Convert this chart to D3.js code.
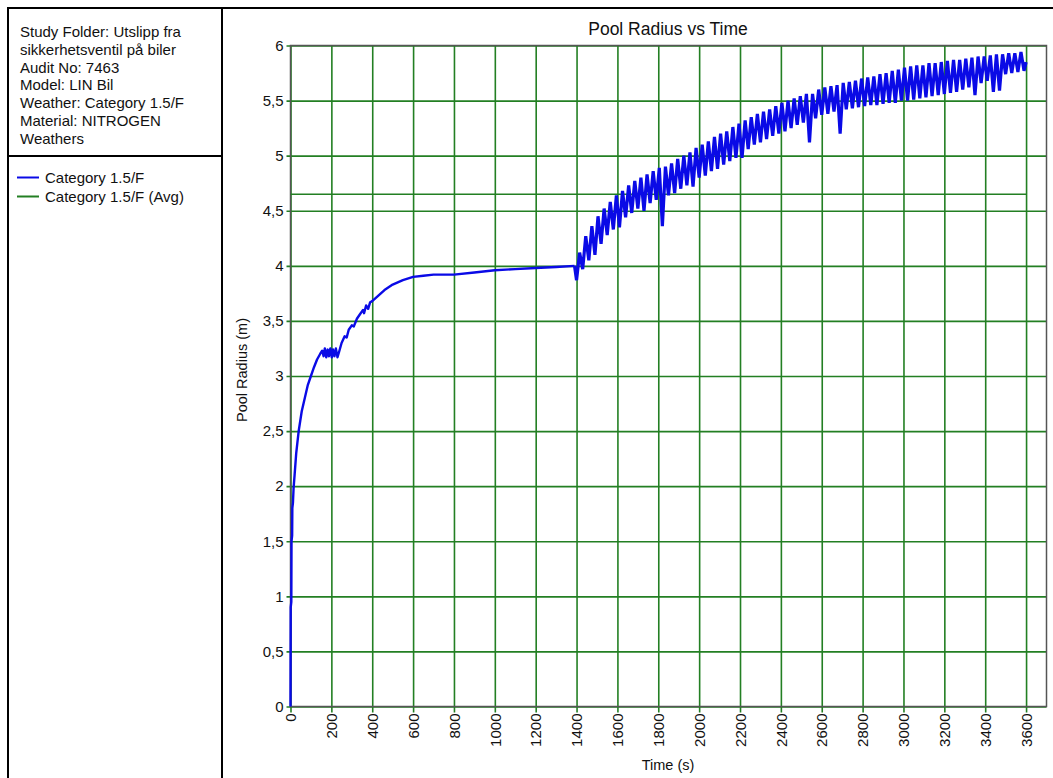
<!DOCTYPE html>
<html>
<head>
<meta charset="utf-8">
<script src="https://cdn.jsdelivr.net/npm/d3@7"></script>
<style>
  body { margin: 0; background: #fff; }
  svg text { font-family: "Liberation Sans", Arial, sans-serif; fill: #111; }
  .tick-label { font-size: 15px; }
  .info { font-size: 15px; }
</style>
</head>
<body>
<svg class="chart" width="1053" height="778"></svg>
<script>
// header text in the left box
var infoLines = [
    "Study Folder: Utslipp fra",
    "sikkerhetsventil på biler",
    "Audit No: 7463",
    "Model: LIN Bil",
    "Weather: Category 1.5/F",
    "Material: NITROGEN",
    "Weathers"
]
var seriesNames = ["Category 1.5/F", "Category 1.5/F (Avg)"]

var xTicks = [0, 200, 400, 600, 800, 1000, 1200, 1400, 1600, 1800, 2000, 2200, 2400, 2600, 2800, 3000, 3200, 3400, 3600]
var yTicks = [0, 0.5, 1, 1.5, 2, 2.5, 3, 3.5, 4, 4.5, 5, 5.5, 6]

// average radius (green line) [time, value]
var avgRadius = [[0, 4.65], [3600, 4.65]]

// [time (s), radius (m)] - spill build-up up to 1390 s
var earlyRadius = [
    [0, 0], [1, 0.9], [4, 0.95], [5, 1.5], [8, 1.55], [9, 1.8], [12, 1.85], [15, 1.98],
    [20, 2.1], [28, 2.3], [40, 2.5], [55, 2.68], [70, 2.8], [85, 2.92], [100, 3.0],
    [115, 3.08], [130, 3.15], [145, 3.2], [155, 3.23], [162, 3.18], [168, 3.25],
    [175, 3.17], [182, 3.24], [188, 3.18], [195, 3.25], [202, 3.17], [208, 3.24],
    [215, 3.18], [222, 3.25], [230, 3.17], [238, 3.22], [250, 3.3], [265, 3.36],
    [275, 3.35], [285, 3.42], [300, 3.46], [310, 3.45], [325, 3.52], [340, 3.56],
    [355, 3.6], [360, 3.57], [370, 3.64], [380, 3.61], [390, 3.67], [400, 3.68],
    [430, 3.73], [460, 3.78], [500, 3.83], [550, 3.87], [600, 3.9], [650, 3.91],
    [700, 3.92], [800, 3.92], [900, 3.94], [1000, 3.96], [1100, 3.97], [1200, 3.98],
    [1300, 3.99], [1390, 4.0]
]

// [time (s), radius (m)] - oscillating part, trough / peak pairs
var lateRadius = [
    [1400, 3.87], [1415, 4.12], [1430, 3.97], [1445, 4.27], [1460, 4.05], [1475, 4.36],
    [1490, 4.1], [1505, 4.45], [1520, 4.2], [1535, 4.52], [1550, 4.28], [1565, 4.58],
    [1580, 4.33], [1595, 4.64], [1610, 4.35], [1625, 4.68], [1640, 4.44], [1655, 4.73],
    [1670, 4.48], [1685, 4.77], [1700, 4.52], [1715, 4.8], [1730, 4.5], [1745, 4.83],
    [1760, 4.57], [1775, 4.86], [1790, 4.6], [1805, 4.89], [1820, 4.36], [1835, 4.9],
    [1850, 4.64], [1865, 4.93], [1880, 4.66], [1895, 4.97], [1910, 4.7], [1925, 5.0],
    [1940, 4.73], [1955, 5.03], [1970, 4.72], [1985, 5.07], [2000, 4.8], [2015, 5.1],
    [2030, 4.82], [2045, 5.13], [2060, 4.86], [2075, 5.17], [2090, 4.88], [2105, 5.2],
    [2120, 4.92], [2135, 5.22], [2150, 4.95], [2165, 5.26], [2180, 4.98], [2195, 5.29],
    [2210, 4.98], [2225, 5.32], [2240, 5.06], [2255, 5.35], [2270, 5.1], [2285, 5.38],
    [2300, 5.12], [2315, 5.4], [2330, 5.15], [2345, 5.42], [2360, 5.18], [2375, 5.45],
    [2390, 5.2], [2405, 5.48], [2420, 5.22], [2435, 5.5], [2450, 5.25], [2465, 5.52],
    [2480, 5.28], [2495, 5.54], [2510, 5.3], [2525, 5.56], [2540, 5.12], [2555, 5.56],
    [2570, 5.34], [2585, 5.6], [2600, 5.37], [2615, 5.62], [2630, 5.38], [2645, 5.63],
    [2660, 5.4], [2675, 5.64], [2690, 5.2], [2705, 5.66], [2720, 5.42], [2735, 5.67],
    [2750, 5.43], [2765, 5.68], [2780, 5.44], [2795, 5.7], [2810, 5.45], [2825, 5.71],
    [2840, 5.46], [2855, 5.72], [2870, 5.46], [2885, 5.74], [2900, 5.47], [2915, 5.75],
    [2930, 5.48], [2945, 5.77], [2960, 5.48], [2975, 5.78], [2990, 5.5], [3005, 5.8],
    [3020, 5.5], [3035, 5.81], [3050, 5.51], [3065, 5.82], [3080, 5.52], [3095, 5.82],
    [3110, 5.53], [3125, 5.84], [3140, 5.54], [3155, 5.84], [3170, 5.55], [3185, 5.85],
    [3200, 5.56], [3215, 5.86], [3230, 5.57], [3245, 5.87], [3260, 5.58], [3275, 5.87],
    [3290, 5.6], [3305, 5.88], [3320, 5.62], [3335, 5.89], [3350, 5.55], [3365, 5.9],
    [3380, 5.66], [3395, 5.9], [3410, 5.68], [3425, 5.91], [3440, 5.58], [3455, 5.92],
    [3470, 5.59], [3485, 5.92], [3500, 5.74], [3515, 5.93], [3530, 5.75], [3545, 5.93],
    [3560, 5.76], [3575, 5.94], [3590, 5.77], [3600, 5.85]
]

var colors = ["#0a0ae6", "#237f23"]

var plot = {left: 290.5, right: 1046.5, top: 45.5, bottom: 706.5}

var x = d3.scaleLinear()
    .domain([0, 3700])
    .range([plot.left, plot.right])

var y = d3.scaleLinear()
    .domain([0, 6])
    .range([plot.bottom, plot.top])

var svg = d3.select(".chart")

// outer frame and left info box
svg.append("rect")
    .attr("x", 8).attr("y", 8)
    .attr("width", 1100).attr("height", 820)
    .attr("fill", "none")
    .attr("stroke", "#000")
    .attr("stroke-width", 2)

svg.append("line")
    .attr("x1", 222).attr("x2", 222)
    .attr("y1", 8).attr("y2", 800)
    .attr("stroke", "#000").attr("stroke-width", 2)

svg.append("line")
    .attr("x1", 8).attr("x2", 222)
    .attr("y1", 156).attr("y2", 156)
    .attr("stroke", "#000").attr("stroke-width", 2)

svg.append("g")
    .selectAll("text")
    .data(infoLines)
    .enter().append("text")
    .attr("class", "info")
    .attr("x", 20)
    .attr("y", (d, i) => 37 + i * 17.8)
    .text(d => d)

var legend = svg.append("g").attr("class", "legend")

legend.selectAll("line")
    .data(seriesNames)
    .enter().append("line")
    .attr("x1", 17).attr("x2", 39)
    .attr("y1", (d, i) => 177.5 + i * 19)
    .attr("y2", (d, i) => 177.5 + i * 19)
    .attr("stroke", (d, i) => colors[i])
    .attr("stroke-width", 2)

legend.selectAll("text")
    .data(seriesNames)
    .enter().append("text")
    .attr("class", "info")
    .attr("x", 45)
    .attr("y", (d, i) => 183 + i * 19)
    .text(d => d)

// title
svg.append("text")
    .attr("x", 668).attr("y", 35)
    .attr("text-anchor", "middle")
    .style("font-size", "17.5px")
    .text("Pool Radius vs Time")

// grid via axes
var fmt = d => String(d).replace(".", ",")

var xAxis = svg.append("g")
    .attr("transform", "translate(0," + (plot.bottom + 6) + ")")
    .call(d3.axisBottom(x)
        .tickValues(xTicks)
        .tickSize(-(plot.bottom + 6 - plot.top))
        .tickFormat(d => d))
xAxis.select(".domain").remove()
xAxis.selectAll(".tick line")
    .attr("stroke", colors[1])
    .attr("stroke-width", 1.6)
xAxis.selectAll(".tick text")
    .attr("class", "tick-label")
    .attr("fill", "#111")
    .attr("transform", "rotate(-90)")
    .attr("text-anchor", "end")
    .attr("x", 0)
    .attr("y", 0)
    .attr("dx", "-1px")
    .attr("dy", "0.35em")
    .style("font-family", "'Liberation Sans', Arial, sans-serif")

var yAxis = svg.append("g")
    .attr("transform", "translate(" + (plot.left - 4) + ",0)")
    .call(d3.axisLeft(y)
        .tickValues(yTicks)
        .tickSize(-(plot.right - plot.left + 4))
        .tickPadding(3)
        .tickFormat(fmt))
yAxis.select(".domain").remove()
yAxis.selectAll(".tick line")
    .attr("stroke", colors[1])
    .attr("stroke-width", 1.6)
yAxis.selectAll(".tick text")
    .attr("class", "tick-label")
    .attr("fill", "#111")
    .style("font-family", "'Liberation Sans', Arial, sans-serif")

// plot frame
svg.append("rect")
    .attr("x", plot.left).attr("y", plot.top)
    .attr("width", plot.right - plot.left)
    .attr("height", plot.bottom - plot.top)
    .attr("fill", "none")
    .attr("stroke", "#555")
    .attr("stroke-width", 1.5)

// axis titles
svg.append("text")
    .attr("x", 668).attr("y", 770)
    .attr("text-anchor", "middle")
    .style("font-size", "14.5px")
    .text("Time (s)")

svg.append("text")
    .attr("transform", "translate(247,370) rotate(-90)")
    .attr("text-anchor", "middle")
    .style("font-size", "14.5px")
    .text("Pool Radius (m)")

// series
var line = d3.line()
    .x(d => x(d[0]))
    .y(d => y(d[1]))

svg.append("path")
    .datum(avgRadius)
    .attr("d", line)
    .attr("fill", "none")
    .attr("stroke", colors[1])
    .attr("stroke-width", 1.6)

svg.append("path")
    .datum(earlyRadius)
    .attr("d", line)
    .attr("fill", "none")
    .attr("stroke", colors[0])
    .attr("stroke-width", 2.4)
    .attr("stroke-linejoin", "round")

svg.append("path")
    .datum([earlyRadius[earlyRadius.length - 1]].concat(lateRadius))
    .attr("d", line)
    .attr("fill", "none")
    .attr("stroke", colors[0])
    .attr("stroke-width", 3.2)
    .attr("stroke-linejoin", "bevel")
</script>
</body>
</html>
